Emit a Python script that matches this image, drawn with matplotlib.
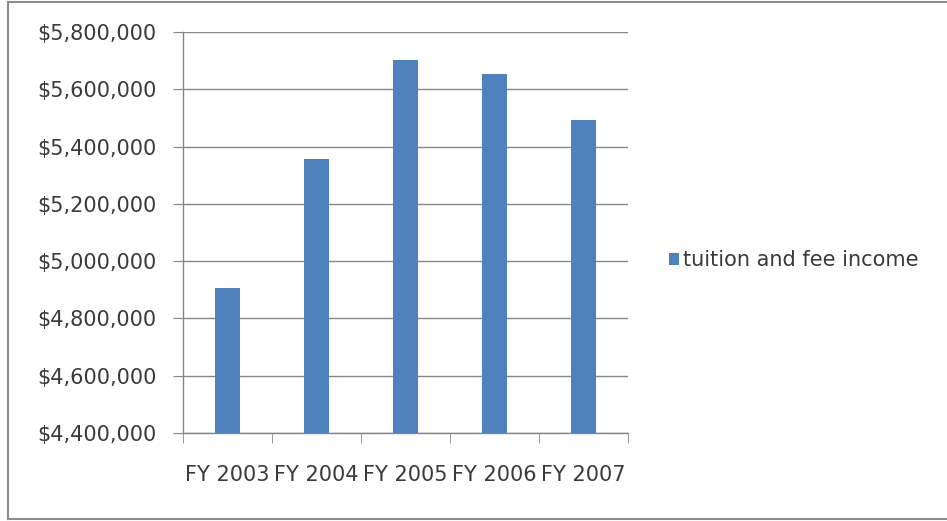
import matplotlib
matplotlib.use("Agg")
import matplotlib.pyplot as plt
from matplotlib.ticker import FuncFormatter, FixedLocator
from matplotlib.lines import Line2D

categories = ["FY 2003", "FY 2004", "FY 2005", "FY 2006", "FY 2007"]
values = [4905000, 5355000, 5701000, 5655000, 5494000]
series_name = "tuition and fee income"
y_ticks = [4400000, 4600000, 4800000, 5000000, 5200000, 5400000, 5600000, 5800000]

BLUE = "#4F81BD"
GRID = "#868686"
TXT = "#3a3a3a"
FONT = ["DejaVu Sans"]
FS = 15

fig = plt.figure(figsize=(9.47, 5.21), dpi=100)
fig.patch.set_facecolor("white")
# outer chart frame (left, top, bottom; right edge lies outside the image)
L, T, B = 8/947, 1 - 2/521, 1 - 519/521
for xs, ys in [([L, L], [B, T]), ([L, 1.01], [T, T]), ([L, 1.01], [B, B])]:
    fig.add_artist(Line2D(xs, ys, transform=fig.transFigure, color="#8c8c8c", linewidth=1.5))

ax = fig.add_axes([183/947, 88/521, 445/947, 401/521])
x = list(range(len(categories)))
bars = ax.bar(x, values, width=0.286, color=BLUE, label=series_name, zorder=3)
ax.set_xlim(-0.5, len(categories) - 0.5)
ax.set_ylim(y_ticks[0], y_ticks[-1])
ax.set_yticks(y_ticks)
ax.yaxis.set_major_formatter(FuncFormatter(lambda v, p: "${:,.0f}".format(v)))
ax.grid(axis="y", color=GRID, linewidth=1.0, zorder=0)

ax.set_xticks(x)
ax.set_xticklabels(categories)
ax.tick_params(axis="x", which="major", length=0, pad=23)
ax.xaxis.set_minor_locator(FixedLocator([i - 0.5 for i in range(len(categories) + 1)]))
ax.tick_params(axis="x", which="minor", length=7, color=GRID, direction="out")
ax.tick_params(axis="y", length=7, color=GRID, pad=12)

for lab in ax.get_xticklabels() + ax.get_yticklabels():
    lab.set_fontfamily(FONT)
    lab.set_fontsize(FS)
    lab.set_color(TXT)

for s in ["top", "right"]:
    ax.spines[s].set_visible(False)
for s in ["left", "bottom"]:
    ax.spines[s].set_color(GRID)
    ax.spines[s].set_linewidth(1.0)

leg = fig.legend(handles=[bars], labels=[series_name], loc="center left",
                 bbox_to_anchor=(650/947, 1 - 260/521), frameon=False,
                 handlelength=0.5, handleheight=0.5, handletextpad=0.2,
                 prop={"family": FONT, "size": FS})
for t in leg.get_texts():
    t.set_color(TXT)

fig.savefig("out.png", dpi=100, facecolor="white")
